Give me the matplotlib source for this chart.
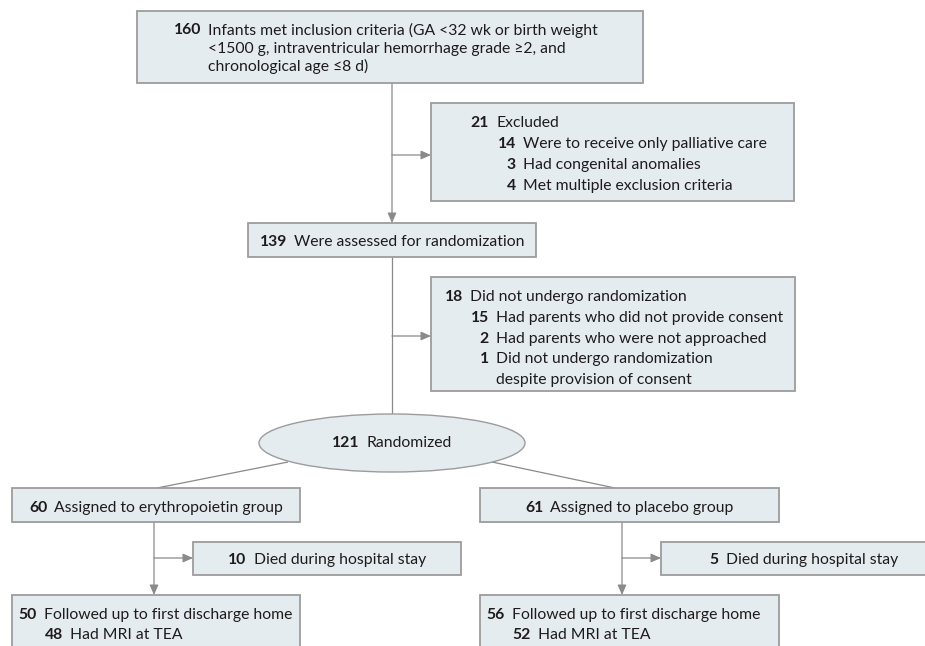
import matplotlib
matplotlib.use("Agg")
import matplotlib.pyplot as plt
from matplotlib.patches import Rectangle, Ellipse

# ---------------- data ----------------
enrolled_n = 160
enrolled_lines = ["Infants met inclusion criteria (GA <32 wk or birth weight",
                  "<1500 g, intraventricular hemorrhage grade \u22652, and",
                  "chronological age \u22648 d)"]
excluded_n = 21
excluded_label = "Excluded"
excluded_reason_n = [14, 3, 4]
excluded_reasons = ["Were to receive only palliative care",
                    "Had congenital anomalies",
                    "Met multiple exclusion criteria"]
assessed_n = 139
assessed_label = "Were assessed for randomization"
not_rand_n = 18
not_rand_label = "Did not undergo randomization"
not_rand_reason_n = [15, 2, 1]
not_rand_reasons = ["Had parents who did not provide consent",
                    "Had parents who were not approached",
                    "Did not undergo randomization",
                    "despite provision of consent"]
randomized_n = 121
randomized_label = "Randomized"
group_n = [60, 61]
group_labels = ["Assigned to erythropoietin group", "Assigned to placebo group"]
died_n = [10, 5]
died_label = "Died during hospital stay"
followed_n = [50, 56]
followed_label = "Followed up to first discharge home"
mri_n = [48, 52]
mri_label = "Had MRI at TEA"

# ---------------- style ----------------
plt.rcParams["font.family"] = ["Lato", "DejaVu Sans"]
FS = 11.3
TXT = "#1E1B1C"
FILL = "#E5ECF0"
EDGE = "#9C9C9C"
LINE = "#8A8A8A"
GAP = 7

fig = plt.figure(figsize=(9.25, 6.46), dpi=100)
ax = fig.add_axes([0, 0, 1, 1])
ax.set_xlim(0, 925)
ax.set_ylim(646, 0)
ax.axis("off")
renderer = fig.canvas.get_renderer()


def box(x0, y0, x1, y1):
    ax.add_patch(Rectangle((x0, y0), x1 - x0, y1 - y0, facecolor=FILL,
                           edgecolor=EDGE, lw=1.3, zorder=2))


def line(p, q, arrow=False):
    if arrow:
        ax.annotate("", xy=q, xytext=p,
                    arrowprops=dict(arrowstyle="-|>,head_length=0.5,head_width=0.22",
                                    color=LINE, lw=0.9, shrinkA=0, shrinkB=0,
                                    mutation_scale=12), zorder=1)
    else:
        ax.plot([p[0], q[0]], [p[1], q[1]], color=LINE, lw=0.9, zorder=1,
                solid_capstyle="butt")


def pair(xr, y, n, txt):
    if n is not None:
        ax.text(xr, y, str(n), ha="right", va="baseline", fontsize=FS,
                fontweight="bold", color=TXT, zorder=3)
    ax.text(xr + GAP, y, txt, ha="left", va="baseline", fontsize=FS,
            color=TXT, zorder=3)


def width(s, bold=False):
    t = ax.text(0, 0, s, fontsize=FS, fontweight="bold" if bold else "normal")
    w = t.get_window_extent(renderer).width
    t.remove()
    return w


def centered(cx, y, n, txt):
    wn = width(str(n), True)
    wt = width(txt)
    total = wn + GAP + wt
    x0 = cx - total / 2
    pair(x0 + wn, y, n, txt)


# ---------------- boxes ----------------
# enrollment
box(137, 11, 643, 83)
pair(201, 34.5, enrolled_n, enrolled_lines[0])
pair(201, 52.5, None, enrolled_lines[1])
pair(201, 70.5, None, enrolled_lines[2])

# excluded
box(431, 103, 794, 201)
pair(489, 127, excluded_n, excluded_label)
for i, (n, r) in enumerate(zip(excluded_reason_n, excluded_reasons)):
    pair(516, 148 + 21 * i, n, r)

# assessed
box(248, 223, 536, 257)
centered(392, 246, assessed_n, assessed_label)

# not randomized
box(431, 277, 795, 391)
pair(463, 301, not_rand_n, not_rand_label)
for i, (n, r) in enumerate(zip(not_rand_reason_n, not_rand_reasons[:3])):
    pair(489, 322 + 20.7 * i, n, r)
pair(489, 384, None, not_rand_reasons[3])

# randomized ellipse
ax.add_patch(Ellipse((392, 443), 266, 58, facecolor=FILL, edgecolor=EDGE,
                     lw=1.0, zorder=2))
centered(392, 447, randomized_n, randomized_label)

# group boxes
group_x = [(12, 300), (480, 779)]
died_x = [(193, 461), (661, 947)]
stem_x = [154, 622]
for g in range(2):
    gx0, gx1 = group_x[g]
    box(gx0, 488, gx1, 522)
    centered((gx0 + gx1) / 2, 512, group_n[g], group_labels[g])
    dx0, dx1 = died_x[g]
    box(dx0, 542, dx1, 575)
    centered((dx0 + dx1) / 2, 564, died_n[g], died_label)
    box(gx0, 595, gx1, 670)
    xr = gx0 + 25
    pair(xr, 619, followed_n[g], followed_label)
    pair(xr + 26, 639, mri_n[g], mri_label)
    # connectors
    line((stem_x[g], 522), (stem_x[g], 595), arrow=True)
    line((stem_x[g], 558), (dx0, 558), arrow=True)

# ---------------- connectors ----------------
line((392, 83), (392, 223), arrow=True)
line((392, 155), (431, 155), arrow=True)
line((392, 257), (392, 414))
line((392, 336), (431, 336), arrow=True)
line((288, 462), (157, 488))
line((492, 462), (615, 488))

fig.savefig("out.png", dpi=100, facecolor="white")
